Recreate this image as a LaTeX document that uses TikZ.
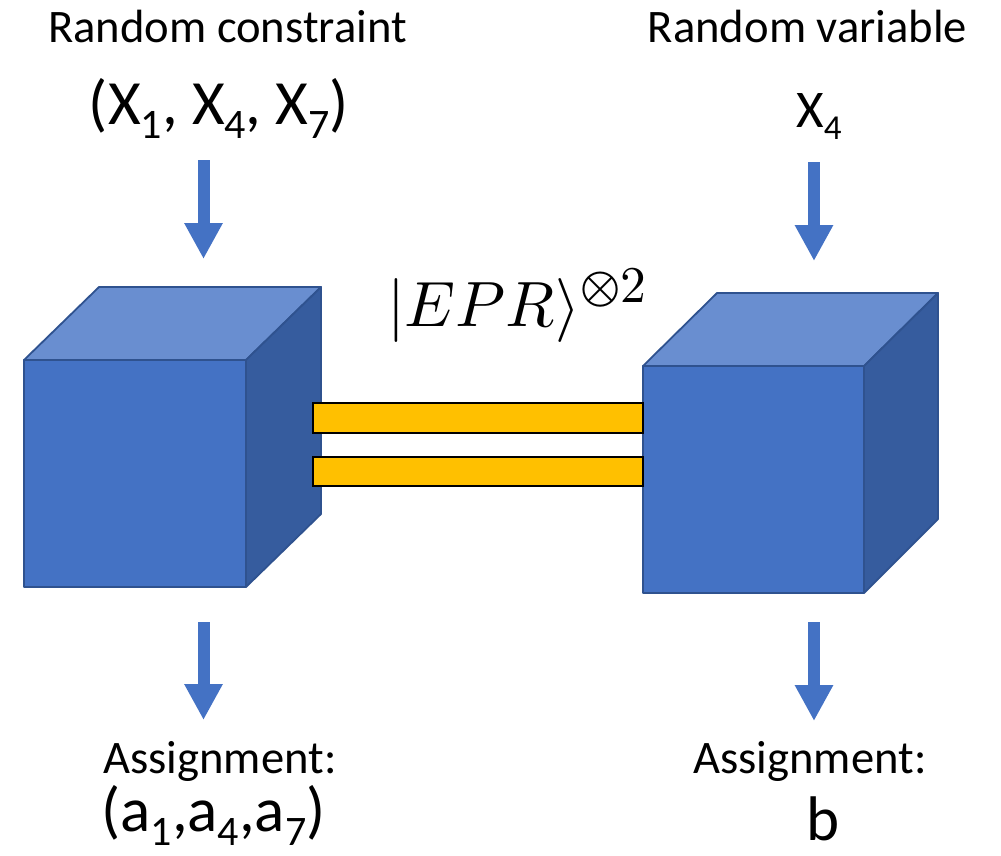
\documentclass[tikz,border=0pt]{standalone}
\usepackage{fontspec}
\usepackage{unicode-math}
\setmainfont{Carlito}
\setmathfont{Latin Modern Math}
\usetikzlibrary{arrows.meta}
\definecolor{frontblue}{HTML}{4472C4}
\definecolor{topblue}{HTML}{698ED0}
\definecolor{sideblue}{HTML}{365C9E}
\definecolor{edgeblue}{HTML}{2F528F}
\definecolor{baryellow}{HTML}{FFC000}
\newcommand\subA[1]{\raisebox{-14pt}{\fontsize{42}{42}\selectfont #1}}
\newcommand\subB[1]{\raisebox{-12pt}{\fontsize{35}{35}\selectfont #1}}
\tikzset{
  txt/.style={inner sep=0pt, anchor=base},
  labeltxt/.style={txt, font=\fontsize{46.6}{56}\selectfont},
  bigtxt/.style={txt, font=\fontsize{63}{70}\selectfont},
  midtxt/.style={txt, font=\fontsize{53}{60}\selectfont},
  facefront/.style={fill=frontblue, draw=edgeblue, line width=1.8pt, line join=round},
  facetop/.style={fill=topblue, draw=edgeblue, line width=1.8pt, line join=round},
  faceside/.style={fill=sideblue, draw=edgeblue, line width=1.8pt, line join=round},
  barbox/.style={fill=baryellow, draw=black, line width=2.2pt},
  blockarrow/.style={draw=frontblue, line width=12pt, -{Triangle[width=36pt,length=36pt]}}
}
\begin{document}
\begin{tikzpicture}[x=1pt,y=-1pt]
\useasboundingbox (0,0) rectangle (1001,855);
% left cube
\draw[facetop] (24,360) -- (99,287) -- (321,287) -- (246,360) -- cycle;
\draw[faceside] (246,360) -- (321,287) -- (321,514) -- (246,587) -- cycle;
\draw[facefront] (24,360) rectangle (246,587);
% right cube
\draw[facetop] (643,366) -- (717,293) -- (938,293) -- (864,366) -- cycle;
\draw[faceside] (864,366) -- (938,293) -- (938,519) -- (864,593) -- cycle;
\draw[facefront] (643,366) rectangle (864,593);
% bars
\draw[barbox] (313,403) rectangle (643,433);
\draw[barbox] (313,457) rectangle (643,486);
% texts
\node[labeltxt] (rc) at (227.5,42) {Random constraint};
\node[labeltxt] (rv) at (807.5,42) {Random variable};
\node[bigtxt] (xs) at (219,124) {(X\subA{1}, X\subA{4}, X\subA{7})};
\node[midtxt] (x4) at (819,127) {X\subB{4}};
\node[labeltxt] (asl) at (220,773) {Assignment:};
\node[labeltxt] (asr) at (810,773) {Assignment:};
\node[bigtxt] (as) at (213.5,831) {(a\subA{1},a\subA{4},a\subA{7})};
\node[bigtxt] (b) at (823,840) {b};
\node[txt, font=\fontsize{64}{74}\selectfont] (epr) at (517,326) {$|EPR\rangle^{\scalebox{1.15}{$\scriptstyle\otimes 2$}}$};
% arrows
\coordinate (a1s) at (203.5,160); \coordinate (a1e) at (203.5,259);
\coordinate (a2s) at (814,162); \coordinate (a2e) at (814,261);
\coordinate (a3s) at (203.5,622); \coordinate (a3e) at (203.5,720);
\coordinate (a4s) at (814,622); \coordinate (a4e) at (814,721);
\draw[blockarrow] (a1s) -- (a1e);
\draw[blockarrow] (a2s) -- (a2e);
\draw[blockarrow] (a3s) -- (a3e);
\draw[blockarrow] (a4s) -- (a4e);
\end{tikzpicture}
\end{document}
